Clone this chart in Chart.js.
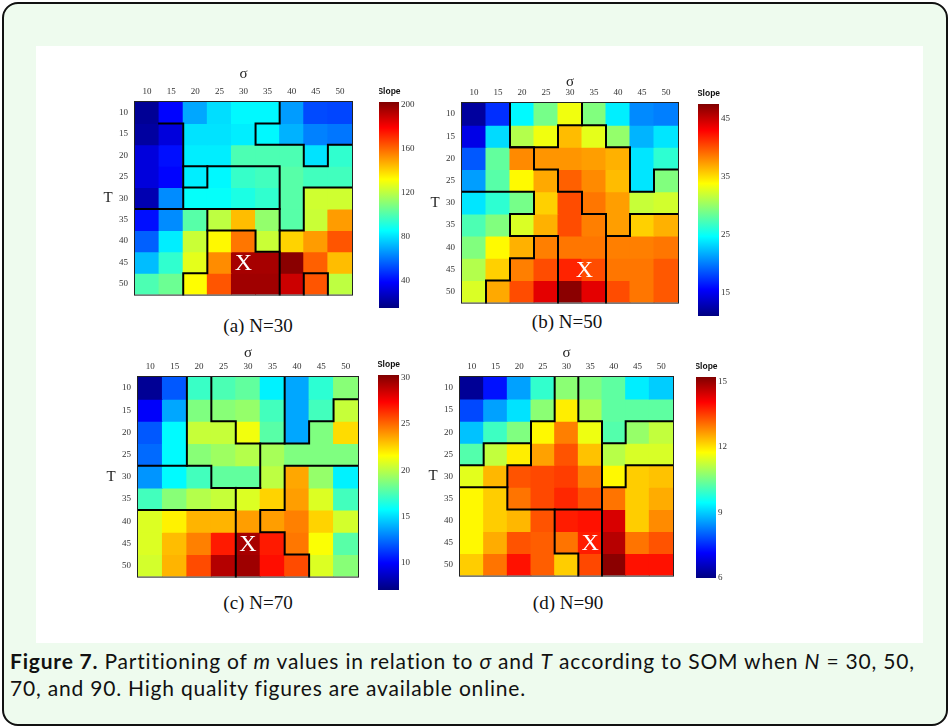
<!DOCTYPE html>
<html>
<head>
<meta charset="utf-8">
<script src="https://cdn.jsdelivr.net/npm/chart.js@4.4.1/dist/chart.umd.min.js"></script>
<style>
  html, body { margin: 0; padding: 0; }
  body { width: 951px; height: 728px; position: relative; background: #fff; overflow: hidden; }
  #frame { position: absolute; left: 2px; top: 2px; width: 942px; height: 720px; border: 2px solid #111;
           border-radius: 16px; background: #eefbee; }
  #panel { position: absolute; left: 36px; top: 46px; width: 887px; height: 597px; background: #fff; }
  canvas { position: absolute; }
  .sub { position: absolute; font-family: "Liberation Serif", serif; font-size: 19px; color: #111;
         transform: translate(-50%, -50%); white-space: nowrap; }
  #caption { position: absolute; left: 10px; top: 647px; width: 935px; font-family: Lato, sans-serif;
             font-size: 21px; letter-spacing: 0.8px; line-height: 27px; color: #111; white-space: nowrap; }
</style>
</head>
<body>
<div id="frame"></div>
<div id="panel"></div>
<div class="sub" style="left:258px; top:326px">(a) N=30</div>
<div class="sub" style="left:567px; top:322px">(b) N=50</div>
<div class="sub" style="left:258px; top:603px">(c) N=70</div>
<div class="sub" style="left:568px; top:603px">(d) N=90</div>
<div id="caption"><b>Figure 7.</b> Partitioning of <i>m</i> values in relation to <i>σ</i> and <i>T</i> according to SOM when <i>N</i> = 30, 50,<br>70, and 90. High quality figures are available online.</div>

<script>
// sigma (columns) and T (rows)
const sigmaLabels = ['10', '15', '20', '25', '30', '35', '40', '45', '50'];
const tValues = [10, 15, 20, 25, 30, 35, 40, 45, 50];

// slope m, one row per T
const slopeN30 = [
  [19, 39, 69, 79, 84, 84, 67, 52, 51],
  [21, 32, 80, 80, 82, 84, 71, 62, 60],
  [32, 41, 82, 82, 99, 99, 99, 80, 94],
  [32, 39, 82, 84, 95, 97, 101, 97, 97],
  [24, 64, 86, 86, 90, 94, 101, 123, 123],
  [41, 64, 101, 120, 144, 112, 101, 122, 150],
  [56, 82, 122, 133, 157, 122, 140, 150, 163],
  [73, 94, 127, 153, 195, 195, 200, 161, 144],
  [99, 105, 132, 163, 196, 196, 188, 163, 120]
];
const slopeN50 = [
  [12.1, 17.2, 24.5, 28.9, 33.3, 29.3, 24.1, 20.5, 20.1],
  [14.7, 23.4, 31.1, 33.3, 36.2, 32.9, 30.0, 22.0, 23.8],
  [18.7, 28.2, 38.0, 37.6, 37.6, 37.3, 36.6, 23.8, 26.3],
  [21.2, 27.8, 34.0, 36.9, 39.5, 38.0, 36.2, 23.8, 29.3],
  [23.8, 26.3, 28.9, 35.5, 40.2, 38.7, 37.3, 31.8, 32.2],
  [27.4, 29.3, 32.5, 36.6, 40.2, 38.4, 37.3, 35.5, 36.6],
  [29.3, 34.0, 36.6, 38.4, 38.7, 38.7, 38.4, 38.4, 38.7],
  [31.1, 35.5, 38.4, 40.2, 41.7, 40.2, 38.7, 38.7, 39.8],
  [32.5, 36.9, 40.2, 43.9, 47.1, 43.9, 40.2, 38.7, 39.8]
];
const slopeN70 = [
  [7.6, 12.0, 17.1, 17.5, 18.0, 15.5, 13.8, 16.8, 18.9],
  [9.9, 13.8, 18.7, 18.9, 19.2, 17.3, 13.8, 17.3, 20.3],
  [12.0, 15.7, 20.3, 20.3, 21.3, 17.8, 13.8, 18.7, 22.4],
  [12.4, 15.7, 18.9, 19.4, 19.9, 19.6, 18.7, 18.7, 18.7],
  [13.4, 15.7, 17.3, 18.0, 18.0, 20.1, 23.6, 19.2, 15.5],
  [17.3, 18.9, 19.9, 20.3, 20.8, 22.6, 23.8, 20.8, 17.3],
  [20.8, 21.9, 23.3, 23.3, 23.8, 23.8, 24.5, 22.6, 20.6],
  [20.8, 23.1, 24.5, 26.8, 29.4, 26.8, 24.7, 21.5, 17.8],
  [20.6, 23.3, 25.7, 29.1, 29.6, 27.1, 25.7, 20.8, 18.9]
];
const slopeN90 = [
  [6.2, 7.3, 8.6, 9.9, 10.7, 10.6, 10.3, 9.3, 9.0],
  [7.8, 8.6, 9.2, 10.7, 11.9, 11.0, 10.3, 10.3, 10.3],
  [8.9, 10.0, 10.6, 11.8, 12.9, 11.6, 10.2, 10.8, 11.2],
  [10.2, 11.2, 11.9, 12.6, 13.3, 12.3, 11.1, 11.4, 11.4],
  [11.5, 12.4, 13.3, 13.4, 13.5, 12.9, 11.8, 12.2, 12.3],
  [11.8, 12.2, 13.0, 13.4, 13.7, 13.3, 13.0, 12.2, 12.5],
  [11.8, 12.2, 12.4, 13.3, 13.8, 13.9, 14.4, 12.2, 12.8],
  [11.8, 12.5, 13.3, 13.2, 13.0, 13.8, 14.7, 13.0, 13.3],
  [12.2, 13.0, 13.9, 13.2, 12.2, 13.4, 15.1, 13.9, 13.9]
];

// colour bar ranges and tick labels
const rangeN30 = [15, 202];
const ticksN30 = [40, 80, 120, 160, 200];
const rangeN50 = [11, 47.5];
const ticksN50 = [15, 25, 35, 45];
const rangeN70 = [7.1, 30.3];
const ticksN70 = [10, 15, 20, 25, 30];
const rangeN90 = [6, 15.2];
const ticksN90 = [6, 9, 12, 15];

// SOM partition boundaries, as (sigma, T) polylines along cell edges
const partsN30 = [
  [[12.5, 12.5], [17.5, 12.5], [17.5, 32.5]],
  [[17.5, 22.5], [37.5, 22.5], [37.5, 37.5], [42.5, 37.5], [42.5, 27.5], [52.5, 27.5]],
  [[22.5, 22.5], [22.5, 27.5], [17.5, 27.5]],
  [[7.5, 32.5], [37.5, 32.5]],
  [[22.5, 32.5], [22.5, 47.5], [17.5, 47.5], [17.5, 52.5]],
  [[22.5, 37.5], [32.5, 37.5], [32.5, 42.5], [37.5, 42.5], [37.5, 52.5]],
  [[37.5, 37.5], [37.5, 42.5]],
  [[42.5, 52.5], [42.5, 47.5], [47.5, 47.5], [47.5, 52.5]],
  [[37.5, 7.5], [37.5, 12.5], [32.5, 12.5], [32.5, 17.5], [42.5, 17.5], [42.5, 22.5], [47.5, 22.5], [47.5, 17.5], [52.5, 17.5]]
];
const partsN50 = [
  [[17.5, 7.5], [17.5, 17.5], [22.5, 17.5], [22.5, 22.5], [27.5, 22.5], [27.5, 27.5], [32.5, 27.5], [32.5, 32.5], [37.5, 32.5], [37.5, 52.5]],
  [[17.5, 17.5], [27.5, 17.5], [27.5, 12.5], [37.5, 12.5], [37.5, 17.5], [42.5, 17.5], [42.5, 27.5], [47.5, 27.5], [47.5, 22.5], [52.5, 22.5]],
  [[32.5, 7.5], [32.5, 12.5]],
  [[7.5, 27.5], [22.5, 27.5], [22.5, 32.5], [17.5, 32.5], [17.5, 37.5], [27.5, 37.5], [27.5, 52.5]],
  [[22.5, 37.5], [22.5, 42.5], [17.5, 42.5], [17.5, 47.5], [12.5, 47.5], [12.5, 52.5]],
  [[52.5, 32.5], [42.5, 32.5], [42.5, 37.5], [37.5, 37.5]]
];
const partsN70 = [
  [[17.5, 7.5], [17.5, 27.5]],
  [[7.5, 27.5], [22.5, 27.5], [22.5, 32.5], [32.5, 32.5]],
  [[22.5, 7.5], [22.5, 17.5], [27.5, 17.5], [27.5, 22.5], [37.5, 22.5], [37.5, 7.5]],
  [[32.5, 22.5], [32.5, 32.5]],
  [[37.5, 22.5], [42.5, 22.5], [42.5, 17.5], [47.5, 17.5], [47.5, 12.5], [52.5, 12.5]],
  [[7.5, 37.5], [27.5, 37.5]],
  [[27.5, 32.5], [27.5, 52.5]],
  [[52.5, 27.5], [37.5, 27.5], [37.5, 37.5], [32.5, 37.5], [32.5, 42.5], [37.5, 42.5], [37.5, 47.5], [42.5, 47.5], [42.5, 52.5]]
];
const partsN90 = [
  [[27.5, 7.5], [27.5, 17.5], [22.5, 17.5], [22.5, 22.5], [12.5, 22.5], [12.5, 27.5], [7.5, 27.5]],
  [[32.5, 7.5], [32.5, 17.5], [37.5, 17.5], [37.5, 22.5], [42.5, 22.5], [42.5, 17.5], [52.5, 17.5]],
  [[22.5, 22.5], [22.5, 27.5], [17.5, 27.5], [17.5, 37.5], [27.5, 37.5], [27.5, 47.5], [32.5, 47.5], [32.5, 52.5]],
  [[7.5, 32.5], [17.5, 32.5]],
  [[27.5, 37.5], [37.5, 37.5]],
  [[37.5, 22.5], [37.5, 52.5]],
  [[52.5, 27.5], [42.5, 27.5], [42.5, 32.5], [37.5, 32.5]]
];

// cell marked with X (sigma, T)
const markN30 = [30, 45];
const markN50 = [33, 45];
const markN70 = [30, 45];
const markN90 = [35, 45];

// page layout of each panel (heatmap area and colour bar)
const panels = [
  { id: 'a', values: slopeN30, range: rangeN30, ticks: ticksN30, parts: partsN30, mark: markN30,
    area: { x: 135, y: 102, w: 217, h: 195 }, sigmaDy: 28, bar: { x: 379, y: 102, w: 20, h: 206 } },
  { id: 'b', values: slopeN50, range: rangeN50, ticks: ticksN50, parts: partsN50, mark: markN50,
    area: { x: 462, y: 103, w: 216, h: 202 }, sigmaDy: 21, bar: { x: 698, y: 104, w: 21, h: 212 } },
  { id: 'c', values: slopeN70, range: rangeN70, ticks: ticksN70, parts: partsN70, mark: markN70,
    area: { x: 138, y: 377, w: 220, h: 202 }, sigmaDy: 24, bar: { x: 378, y: 375, w: 21, h: 215 } },
  { id: 'd', values: slopeN90, range: rangeN90, ticks: ticksN90, parts: partsN90, mark: markN90,
    area: { x: 460, y: 377, w: 213, h: 201 }, sigmaDy: 24, bar: { x: 696, y: 377, w: 20, h: 201 } }
];

const tickFont = { family: '"Liberation Serif", serif', size: 9 };

// MATLAB style jet colormap
function jet(t) {
  t = Math.max(0, Math.min(1, t));
  const c = v => Math.round(255 * Math.max(0, Math.min(1, v)));
  const r = c(1.5 - Math.abs(4 * t - 3));
  const g = c(1.5 - Math.abs(4 * t - 2));
  const b = c(1.5 - Math.abs(4 * t - 1));
  return `rgb(${r},${g},${b})`;
}

function addCanvas(left, top, width, height) {
  const cv = document.createElement('canvas');
  cv.width = width;
  cv.height = height;
  cv.style.left = left + 'px';
  cv.style.top = top + 'px';
  cv.style.width = width + 'px';
  cv.style.height = height + 'px';
  document.body.appendChild(cv);
  return cv;
}

// partition lines, frame, X mark and axis symbols on top of the cells
function heatOverlay(p) {
  return {
    id: 'overlay_' + p.id,
    afterDatasetsDraw(chart) {
      const { ctx, chartArea: a, scales: { x, y } } = chart;
      const px = s => x.getPixelForValue((s - 10) / 5);
      const py = t => y.getPixelForValue(t);
      ctx.save();
      ctx.strokeStyle = '#000';
      ctx.lineWidth = 2;
      ctx.lineCap = 'square';
      ctx.lineJoin = 'miter';
      p.parts.forEach(line => {
        ctx.beginPath();
        line.forEach(([s, t], i) => i ? ctx.lineTo(px(s), py(t)) : ctx.moveTo(px(s), py(t)));
        ctx.stroke();
      });
      ctx.lineWidth = 1;
      ctx.strokeStyle = '#222';
      ctx.strokeRect(a.left - 0.5, a.top - 0.5, a.width + 1, a.height + 1);

      ctx.textAlign = 'center';
      ctx.textBaseline = 'middle';
      ctx.fillStyle = '#fff';
      ctx.font = '24px "Liberation Serif"';
      ctx.fillText('X', px(p.mark[0]), py(p.mark[1]) + 1);

      ctx.fillStyle = '#222';
      ctx.font = '15px "Liberation Serif"';
      ctx.fillText('σ', (a.left + a.right) / 2, a.top - p.sigmaDy);
      ctx.fillText('T', a.left - 27, (a.top + a.bottom) / 2);
      ctx.restore();
    }
  };
}

function makeHeatmap(p) {
  const padL = 45, padT = 40, padR = 10, padB = 10;
  const cv = addCanvas(p.area.x - padL, p.area.y - padT, p.area.w + padL + padR, p.area.h + padT + padB);
  const [lo, hi] = p.range;
  const datasets = tValues.map((t, r) => ({
    label: 'T=' + t,
    data: p.values[r].map(() => [t - 2.5, t + 2.5]),
    backgroundColor: p.values[r].map(v => jet((v - lo) / (hi - lo))),
    borderWidth: 0,
    inflateAmount: 0.5,
    barPercentage: 1,
    categoryPercentage: 1,
    grouped: false
  }));
  new Chart(cv, {
    type: 'bar',
    data: { labels: sigmaLabels, datasets: datasets },
    options: {
      responsive: false,
      animation: false,
      events: [],
      layout: { padding: { right: padR, bottom: padB } },
      plugins: { legend: { display: false }, tooltip: { enabled: false } },
      scales: {
        x: {
          position: 'top',
          grid: { display: false, drawTicks: false },
          border: { display: false },
          ticks: { font: tickFont, color: '#333', padding: 5, maxRotation: 0, autoSkip: false },
          afterFit: s => { s.height = padT; }
        },
        y: {
          type: 'linear',
          reverse: true,
          min: 7.5,
          max: 52.5,
          grid: { display: false, drawTicks: false },
          border: { display: false },
          ticks: { font: tickFont, color: '#333', padding: 7 },
          afterBuildTicks: s => { s.ticks = tValues.map(v => ({ value: v })); },
          afterFit: s => { s.width = padL; }
        }
      }
    },
    plugins: [heatOverlay(p)]
  });
}

function makeColorbar(p) {
  const padT = 22, padB = 8, padR = 30;
  const b = p.bar;
  const cv = addCanvas(b.x, b.y - padT, b.w + padR, b.h + padT + padB);
  new Chart(cv, {
    type: 'bar',
    data: {
      labels: ['Slope'],
      datasets: [{
        data: [p.range],
        backgroundColor: c => {
          const area = c.chart.chartArea;
          if (!area) return '#888';
          const g = c.chart.ctx.createLinearGradient(0, area.bottom, 0, area.top);
          [0, 0.125, 0.375, 0.625, 0.875, 1].forEach(s => g.addColorStop(s, jet(s)));
          return g;
        },
        borderWidth: 0,
        barPercentage: 1,
        categoryPercentage: 1
      }]
    },
    options: {
      responsive: false,
      animation: false,
      events: [],
      layout: { padding: { top: padT, bottom: padB } },
      plugins: { legend: { display: false }, tooltip: { enabled: false } },
      scales: {
        x: { display: false },
        y: {
          position: 'right',
          min: p.range[0],
          max: p.range[1],
          grid: { display: false, drawTicks: false },
          border: { display: false },
          ticks: { font: tickFont, color: '#333', padding: 2 },
          afterBuildTicks: s => { s.ticks = p.ticks.map(v => ({ value: v })); },
          afterFit: s => { s.width = padR; }
        }
      }
    },
    plugins: [{
      id: 'slopeTitle_' + p.id,
      afterDraw(chart) {
        const { ctx, chartArea: a } = chart;
        ctx.save();
        ctx.fillStyle = '#111';
        ctx.font = 'bold 8.5px "Liberation Sans"';
        ctx.textAlign = 'center';
        ctx.textBaseline = 'middle';
        ctx.fillText('Slope', (a.left + a.right) / 2, a.top - 10);
        ctx.restore();
      }
    }]
  });
}

panels.forEach(p => {
  makeHeatmap(p);
  makeColorbar(p);
});
</script>
</body>
</html>
